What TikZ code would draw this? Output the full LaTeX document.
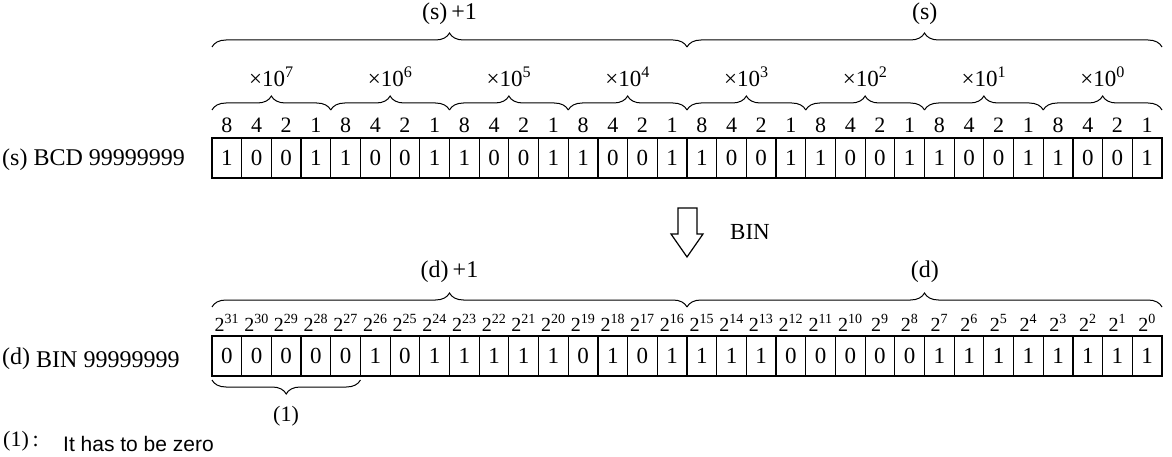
\documentclass[tikz,border=0pt]{standalone}
\usepackage{fontspec}
\setmainfont{Liberation Serif}
\newfontfamily\notefont{Liberation Sans}
\usetikzlibrary{decorations.pathreplacing,positioning}

\begin{document}
\begin{tikzpicture}[x=1pt,y=-1pt,
		bit/.style={draw,line width=1.2pt,minimum width=29.6875pt,minimum height=40pt,inner sep=0pt,outer sep=0pt,font=\fontsize{23}{26}\selectfont},
		wgt/.style={anchor=base,inner sep=0pt,font=\fontsize{22}{26}\selectfont},
		pw/.style={anchor=base,inner sep=0pt,font=\fontsize{20}{24}\selectfont},
		lbl/.style={anchor=base,inner sep=0pt,font=\fontsize{24}{28}\selectfont},
		brc/.style={decorate,decoration={brace,amplitude=14pt},line width=1pt}]
		\useasboundingbox (0,0) rectangle (1172,457);
		
		\foreach \g in {0,...,7}{
			\foreach \b [count=\k from 0] in {1,0,0,1}{
				\pgfmathtruncatemacro\n{4*\g+\k}
				\node[bit] (S\n) at ({212+(\n+0.5)*29.6875},158) {\b};
			}
			\foreach \w [count=\k from 0] in {8,4,2,1}
				\node[wgt] (W\g\k) at ({212+(4*\g+\k+0.5)*29.6875},133) {\w};
		}
		\draw[line width=2pt] (S0.north west) rectangle (S31.south east);
		
		\foreach \g in {0,...,7}{
			\pgfmathtruncatemacro\a{4*\g}
			\pgfmathtruncatemacro\b{4*\g+3}
			\pgfmathtruncatemacro\e{7-\g}
			\draw[brc] ([yshift=28pt]S\a.north west) -- ([yshift=28pt]S\b.north east);
			\node[lbl,font=\fontsize{23}{26}\selectfont] (X\g) at ({212+(4*\g+2)*29.6875},87) {×10\textsuperscript{\e}};
		}
		\draw[brc] ([yshift=91pt]S0.north west) -- ([yshift=91pt]S15.north east);
		\draw[brc] ([yshift=91pt]S16.north west) -- ([yshift=91pt]S31.north east);
		\node[lbl] (SH) at (449.5,20) {(s)\,+1};
		\node[lbl] (SL) at (924.75,20) {(s)};
		\node[lbl,anchor=base west] (SN) at (2,166) {(s) BCD 99999999};
		
		\draw[line width=1.2pt,line join=miter] (678,208) -- (697,208) -- (697,234) -- (703,234) -- (687,257) -- (671,234) -- (678,234) -- cycle;
		\node[lbl,font=\fontsize{23}{26}\selectfont] (T) at (750,239) {BIN};
		
		\foreach \b [count=\n from 0] in {0,0,0,0,0,1,0,1,1,1,1,1,0,1,0,1,1,1,1,0,0,0,0,0,1,1,1,1,1,1,1,1}
			\node[bit] (D\n) at ({212+(\n+0.5)*29.6875},356) {\b};
		\draw[line width=2pt] (D0.north west) rectangle (D31.south east);
		
		\foreach \n in {0,...,31}{
			\pgfmathtruncatemacro\e{31-\n}
			\node[pw] (P\n) at ({212+(\n+0.5)*29.6875},331) {2\textsuperscript{\e}};
		}
		\draw[brc] ([yshift=29pt]D0.north west) -- ([yshift=29pt]D15.north east);
		\draw[brc] ([yshift=29pt]D16.north west) -- ([yshift=29pt]D31.north east);
		\node[lbl] (DH) at (449.5,277) {(d)\,+1};
		\node[lbl] (DL) at (924.75,277) {(d)};
		\node[lbl,anchor=base west] (DN) at (2,367) {\raisebox{3pt}{(d)} BIN 99999999};
		
		\draw[brc] ([yshift=-4pt]D4.south east) -- ([yshift=-4pt]D0.south west);
		\node[lbl,font=\fontsize{22}{26}\selectfont] (Z) at (286,421) {(1)};
		\node[lbl,anchor=base west,font=\fontsize{22}{26}\selectfont] (ZN) at (3,446) {(1)\,:};
		\node[lbl,anchor=base west,font=\notefont\fontsize{21}{24}\selectfont] (ZT) at (63,451) {It has to be zero};
		
	\end{tikzpicture}
\end{document}
